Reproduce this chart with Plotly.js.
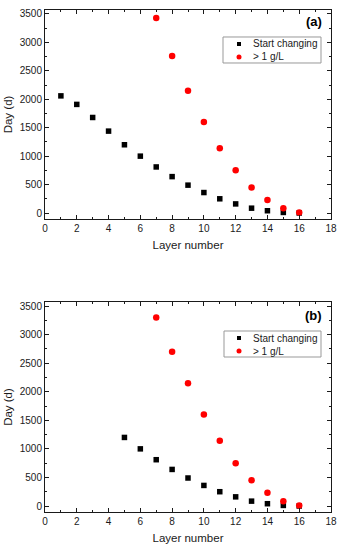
<!DOCTYPE html>
<html>
<head>
<meta charset="utf-8">
<script src="https://cdn.plot.ly/plotly-3.0.1.min.js"></script>
<style>html,body{margin:0;padding:0;background:#fff;}#chart{width:347px;height:550px;}</style>
</head>
<body>
<div id="chart"></div>
<script>
// Panel (a)
const layersA_start = [1,2,3,4,5,6,7,8,9,10,11,12,13,14,15,16];
const daysA_start   = [2060,1910,1680,1440,1200,1000,810,640,490,360,250,160,85,40,10,0];
const layersA_gl    = [7,8,9,10,11,12,13,14,15,16];
const daysA_gl      = [3430,2760,2150,1600,1140,750,450,230,85,10];
// Panel (b)
const layersB_start = [5,6,7,8,9,10,11,12,13,14,15,16];
const daysB_start   = [1200,1000,810,640,490,360,250,160,85,40,10,0];
const layersB_gl    = [7,8,9,10,11,12,13,14,15,16];
const daysB_gl      = [3300,2700,2150,1600,1140,750,450,230,85,10];
const seriesNames = ["Start changing", "> 1 g/L"];
const panelLabels = ["(a)", "(b)"];
const xTicks = [0,2,4,6,8,10,12,14,16,18];
const yTicks = [0,500,1000,1500,2000,2500,3000,3500];

const FONT = "Liberation Sans, Arial, sans-serif";
const INK = "#1a1a1a";
const sq = {symbol:"square", size:5.5, color:"#000"};
const ci = {symbol:"circle", size:6.5, color:"#ff0000"};

const traces = [
  {x:layersA_start, y:daysA_start, type:"scatter", mode:"markers", name:seriesNames[0], marker:sq, xaxis:"x", yaxis:"y"},
  {x:layersA_gl, y:daysA_gl, type:"scatter", mode:"markers", name:seriesNames[1], marker:ci, xaxis:"x", yaxis:"y"},
  {x:layersB_start, y:daysB_start, type:"scatter", mode:"markers", name:seriesNames[0], marker:sq, xaxis:"x2", yaxis:"y2"},
  {x:layersB_gl, y:daysB_gl, type:"scatter", mode:"markers", name:seriesNames[1], marker:ci, xaxis:"x2", yaxis:"y2"}
];

function xax(anchor){
  return {range:[0,18], tickvals:xTicks, ticktext:xTicks.map(String), ticks:"inside", ticklen:4, tickwidth:1, tickcolor:INK,
    showline:true, linecolor:INK, linewidth:1, mirror:"allticks", showgrid:false, zeroline:false, anchor:anchor,
    minor:{ticks:"inside", dtick:1, ticklen:2, tickcolor:INK, showgrid:false},
    tickfont:{family:FONT, size:10, color:INK},
    title:{text:"Layer number", font:{family:FONT, size:11.5, color:INK}, standoff:7}};
}
function yax(anchor, domain){
  return {range:[-105,3570], domain:domain, tickvals:yTicks, ticktext:yTicks.map(String), ticks:"inside", ticklen:4, tickwidth:1, tickcolor:INK,
    showline:true, linecolor:INK, linewidth:1, mirror:"allticks", showgrid:false, zeroline:false, anchor:anchor,
    minor:{ticks:"inside", dtick:250, ticklen:2, tickcolor:INK, showgrid:false},
    tickfont:{family:FONT, size:10, color:INK},
    title:{text:"Day (d)", font:{family:FONT, size:11.5, color:INK}, standoff:4}};
}

// Legend box, drawn in each panel's domain coordinates (domain px: x 45..331)
function legendParts(xs, ys, box, rows){
  const fx = px => (px-45)/286;
  const shapes = [
    {type:"rect", xref:xs+" domain", yref:ys+" domain", x0:fx(box[0]), x1:fx(box[1]), y0:box[3], y1:box[2], line:{color:"#999", width:1}, fillcolor:"rgba(255,255,255,0)"},
    {type:"rect", xref:xs+" domain", yref:ys+" domain", xsizemode:"pixel", ysizemode:"pixel", xanchor:fx(239), yanchor:rows[0], x0:-2, x1:2, y0:-2, y1:2, fillcolor:"#000", line:{width:0}},
    {type:"circle", xref:xs+" domain", yref:ys+" domain", xsizemode:"pixel", ysizemode:"pixel", xanchor:fx(239), yanchor:rows[1], x0:-2.5, x1:2.5, y0:-2.5, y1:2.5, fillcolor:"#ff0000", line:{width:0}}
  ];
  const ann = rows.map((r,i)=>({xref:xs+" domain", yref:ys+" domain", x:fx(251), y:r, xanchor:"left", yanchor:"middle", showarrow:false,
    text:seriesNames[i], font:{family:FONT, size:10, color:INK}}));
  return {shapes, ann};
}
const topPx = y => (219-y)/209;
const botPx = y => (512-y)/210;
const legA = legendParts("x", "y", [223, 321, topPx(37), topPx(63)], [topPx(44), topPx(57)]);
const legB = legendParts("x2", "y2", [224, 321, botPx(331), botPx(357)], [botPx(338), botPx(351)]);

const layout = {
  width:347, height:550, paper_bgcolor:"#fff", plot_bgcolor:"#fff",
  margin:{l:45, r:16, t:10, b:38},
  showlegend:false,
  xaxis: xax("y"),
  yaxis: yax("x", [0.5837, 1]),
  xaxis2: xax("y2"),
  yaxis2: yax("x2", [0, 0.4183]),
  shapes: legA.shapes.concat(legB.shapes),
  annotations:[
    {xref:"x domain", yref:"y domain", x:0.975, y:topPx(22), xanchor:"right", yanchor:"middle", text:"<b>"+panelLabels[0]+"</b>", showarrow:false, font:{family:FONT, size:13, color:"#000"}},
    {xref:"x2 domain", yref:"y2 domain", x:0.975, y:botPx(315), xanchor:"right", yanchor:"middle", text:"<b>"+panelLabels[1]+"</b>", showarrow:false, font:{family:FONT, size:13, color:"#000"}}
  ].concat(legA.ann, legB.ann)
};
Plotly.newPlot("chart", traces, layout, {staticPlot:true});
</script>
</body>
</html>
